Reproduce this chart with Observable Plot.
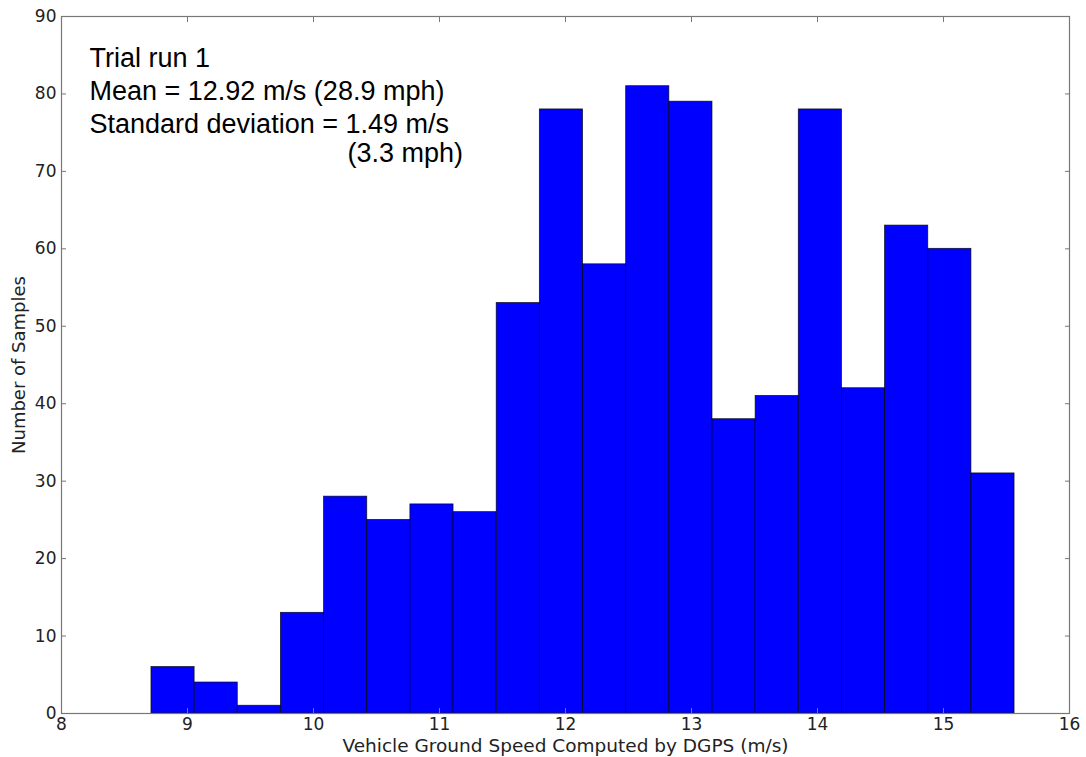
<!DOCTYPE html>
<html><head><meta charset="utf-8">
<script src="https://cdn.jsdelivr.net/npm/d3@7"></script>
<script src="https://cdn.jsdelivr.net/npm/@observablehq/plot@0.6"></script>
<style>html,body{margin:0;padding:0;background:#fff}</style>
</head><body><div id="chart"></div>
<script>
// Histogram bins (evenly spaced): first edge and bin width
const binStart = 8.714;
const binWidth = 0.3425;
const counts = [6, 4, 1, 13, 28, 25, 27, 26, 53, 78, 58, 81, 79, 38, 41, 78, 42, 63, 60, 31];
const xTicks = [8, 9, 10, 11, 12, 13, 14, 15, 16];
const yTicks = [0, 10, 20, 30, 40, 50, 60, 70, 80, 90];
const annotationLines = ["Trial run 1", "Mean = 12.92 m/s (28.9 mph)", "Standard deviation = 1.49 m/s"];
const annotationTail = ["(3.3 mph)"];
const xLabel = "Vehicle Ground Speed Computed by DGPS (m/s)";
const yLabel = "Number of Samples";

const bins = counts.map((c, i) => ({x1: binStart + i * binWidth, x2: binStart + (i + 1) * binWidth, count: c}));

const annFont = "'Liberation Sans', Arial, sans-serif";
const chart = Plot.plot({
  width: 1086, height: 757,
  marginLeft: 61, marginRight: 17, marginTop: 16, marginBottom: 44,
  style: {fontFamily: "'DejaVu Sans', sans-serif", fontSize: "17px", color: "#222", background: "#fff", overflow: "visible"},
  x: {domain: [8, 16]},
  y: {domain: [0, 90]},
  marks: [
    Plot.rectY(bins, {x1: "x1", x2: "x2", y: "count", fill: "#0000ff", stroke: "#000", strokeWidth: 0.8, strokeOpacity: 0.8}),
    Plot.frame({stroke: "#777", strokeWidth: 1.2}),
    Plot.axisX({ticks: xTicks, tickSize: 0, tickPadding: 4, tickFormat: d => String(d), label: null}),
    Plot.axisX({ticks: [], tickSize: 0, label: xLabel, labelAnchor: "center", labelArrow: "none", labelOffset: 38, fontSize: 18.5}),
    Plot.axisX({ticks: xTicks, tickSize: -5, text: null, label: null, stroke: "#777"}),
    Plot.axisX({anchor: "top", ticks: xTicks, tickSize: -5, text: null, label: null, stroke: "#777"}),
    Plot.axisY({ticks: yTicks, tickSize: 0, tickPadding: 5, tickFormat: d => String(d), label: null}),
    Plot.axisY({ticks: [], tickSize: 0, label: yLabel, labelAnchor: "center", labelArrow: "none", labelOffset: 49, fontSize: 18}),
    Plot.axisY({ticks: yTicks, tickSize: -5, text: null, label: null, stroke: "#777"}),
    Plot.axisY({anchor: "right", ticks: yTicks, tickSize: -5, text: null, label: null, stroke: "#777"}),
    Plot.text([annotationLines.join("\n")], {text: d => d, frameAnchor: "top-left", dx: 28, dy: 27, lineAnchor: "top", textAnchor: "start", lineHeight: 1.22, fontSize: 27, fontFamily: annFont, fill: "#000"}),
    Plot.text(annotationTail, {text: d => d, frameAnchor: "top-left", dx: 286, dy: 126, lineAnchor: "top", textAnchor: "start", fontSize: 27, fontFamily: annFont, fill: "#000"})
  ]
});
document.getElementById("chart").append(chart);
</script>
</body></html>
